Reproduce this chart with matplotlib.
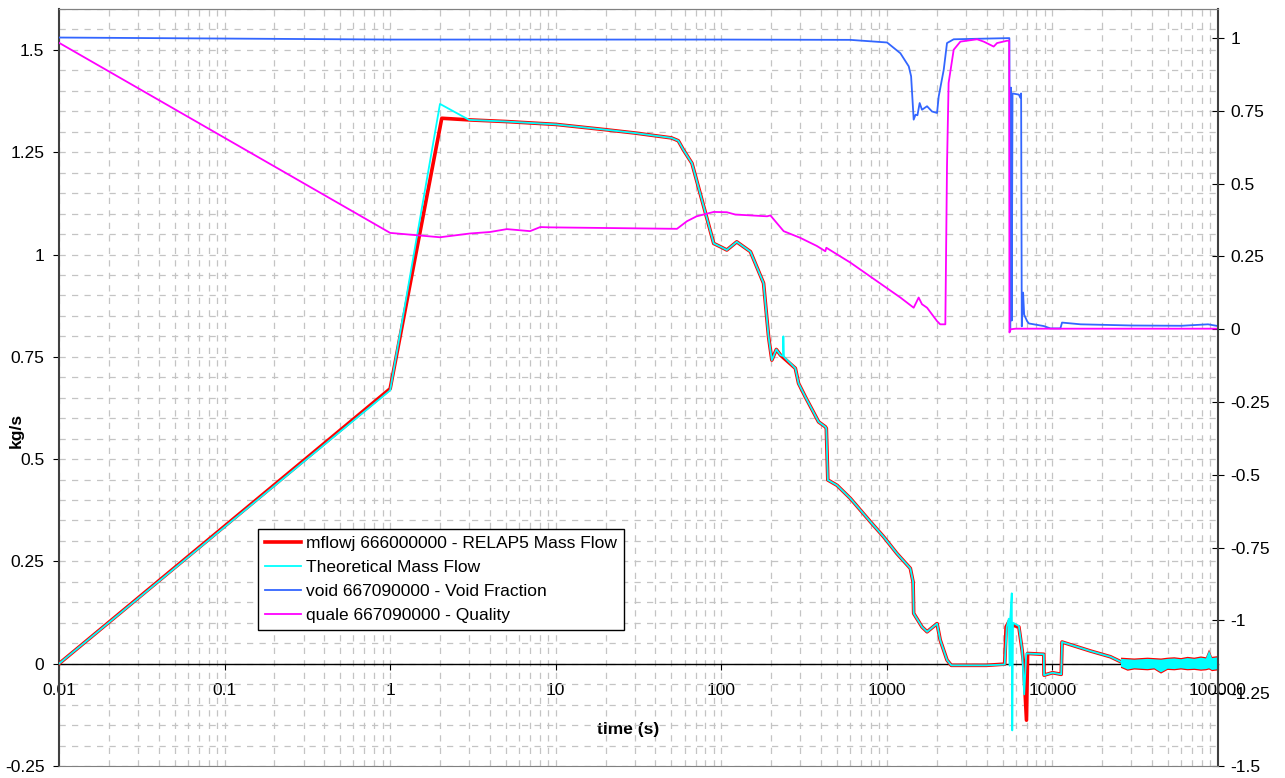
import numpy as np
import matplotlib
matplotlib.use("Agg")
import matplotlib.pyplot as plt
from matplotlib.ticker import FixedLocator, FuncFormatter, LogLocator, MultipleLocator, NullFormatter

plt.rcParams['font.family'] = ['Liberation Sans', 'DejaVu Sans']

# mflowj 666000000 - RELAP5 mass flow (kg/s)
relap_t = [0.01, 1, 2.05, 3, 5, 10, 20, 30, 50, 55, 59, 66.5, 78, 90, 100, 108, 124, 150,
           180, 193, 202, 215, 228, 280, 293, 322, 387, 425, 431, 440, 500, 602, 795, 957,
           1152, 1386, 1440, 1452, 1520, 1630, 1749, 2010, 2100, 2308, 2450, 4000, 5150,
           5250, 5500, 5650, 6270, 6560, 6700, 6970, 7080, 8870, 8900, 10000, 11300, 11430,
           16980, 22400, 26400]
relap_flow = [0.0, 0.672, 1.333, 1.329, 1.325, 1.318, 1.305, 1.297, 1.285, 1.278, 1.256, 1.223,
              1.12, 1.027, 1.018, 1.011, 1.031, 1.007, 0.930, 0.799, 0.742, 0.768, 0.754, 0.722,
              0.685, 0.652, 0.591, 0.579, 0.575, 0.449, 0.436, 0.404, 0.347, 0.310, 0.269, 0.233,
              0.200, 0.123, 0.110, 0.090, 0.078, 0.098, 0.058, 0.009, -0.004, -0.004, -0.001,
              0.090, 0.105, 0.095, 0.090, 0.033, 0.0, -0.138, 0.025, 0.023, -0.028, -0.022,
              -0.026, 0.053, 0.031, 0.017, 0.003]

# theoretical mass flow (kg/s)
theo_t = [0.01, 1, 2, 3, 5, 10, 20, 30, 50, 55, 59, 66.5, 78, 90, 100, 108, 124, 150,
          180, 193, 202, 215, 228, 236, 237, 239, 280, 293, 322, 387, 425, 431, 440, 500, 602,
          795, 957, 1152, 1386, 1440, 1452, 1520, 1630, 1749, 2010, 2100, 2308, 2450, 4000,
          5150, 5300, 5450, 5520, 5560, 5680, 5720, 5780, 6270, 6560, 6750, 6950, 8870, 8900,
          10000, 11300, 11430, 16980, 22400, 26400]
theo_flow = [0.0, 0.668, 1.368, 1.329, 1.325, 1.318, 1.305, 1.297, 1.285, 1.278, 1.256, 1.223,
             1.12, 1.027, 1.018, 1.011, 1.031, 1.007, 0.930, 0.799, 0.742, 0.768, 0.754, 0.752,
             0.800, 0.750, 0.722, 0.685, 0.652, 0.591, 0.579, 0.575, 0.449, 0.436, 0.404, 0.347,
             0.310, 0.269, 0.233, 0.200, 0.123, 0.110, 0.090, 0.078, 0.098, 0.058, 0.009, -0.004,
             -0.004, -0.002, 0.090, 0.110, -0.005, 0.110, 0.172, -0.163, 0.100, 0.092, 0.033,
             -0.075, 0.025, 0.023, -0.028, -0.022, -0.026, 0.053, 0.031, 0.017, 0.003]

# noisy tail of both flow series: lower / upper envelope
tail_t = [25760, 28270, 31000, 34000, 37300, 40950, 44950, 49300, 54100, 59400, 65100,
          71400, 78400, 84000, 87700, 91400, 100000]
tail_lo = [-0.006, -0.013, -0.010, -0.011, -0.012, -0.010, -0.020, -0.011, -0.012, -0.010,
           -0.012, -0.011, -0.013, -0.012, -0.010, -0.014, -0.012]
tail_hi = [0.013, 0.012, 0.011, 0.012, 0.013, 0.012, 0.011, 0.013, 0.014, 0.012, 0.015,
           0.013, 0.016, 0.014, 0.033, 0.015, 0.017]

# void 667090000 - void fraction (right axis)
void_t = [0.01, 1, 100, 601, 1003, 1207, 1356, 1401, 1452, 1490, 1530, 1578, 1630, 1749, 1874,
          2010, 2057, 2205, 2308, 2533, 5447, 5495, 5560, 5620, 5680, 5740, 6270, 6400, 6470,
          6530, 6650, 6750, 7030, 7200, 8870, 9720, 11170, 11430, 14800, 30000, 60000, 87000,
          100000]
void_frac = [1.002, 0.995, 0.995, 0.994, 0.985, 0.948, 0.903, 0.869, 0.720, 0.737, 0.735, 0.777,
             0.754, 0.766, 0.748, 0.743, 0.800, 0.891, 0.983, 0.996, 1.0, 1.0, 0.0, 0.83, 0.03,
             0.81, 0.806, 0.795, 0.81, 0.01, 0.126, 0.05, 0.028, 0.02, 0.011, 0.003, 0.003, 0.023,
             0.017, 0.013, 0.012, 0.017, 0.011]

# quale 667090000 - quality (right axis)
qual_t = [0.01, 1, 2, 3.04, 4, 5.07, 7, 8.06, 9.3, 54, 62, 71, 90, 108, 121.6, 189, 198, 238,
          300, 378, 425, 431, 602, 1207, 1452, 1556, 1630, 1749, 2010, 2100, 2255, 2308, 2360,
          2533, 2780, 3508, 3846, 4418, 4630, 5320, 5480, 5500, 5600, 6000, 100000]
quality = [0.984, 0.331, 0.316, 0.329, 0.334, 0.344, 0.337, 0.351, 0.350, 0.345, 0.371, 0.388,
           0.403, 0.402, 0.394, 0.388, 0.391, 0.337, 0.314, 0.286, 0.268, 0.280, 0.229, 0.109,
           0.074, 0.109, 0.086, 0.074, 0.028, 0.017, 0.017, 0.56, 0.846, 0.960, 0.988, 0.996,
           0.988, 0.971, 0.983, 0.991, 0.991, -0.011, 0.0, 0.002, 0.002]

x_ticks = [0.01, 0.1, 1, 10, 100, 1000, 10000, 100000]
left_ticks = [-0.25, 0, 0.25, 0.5, 0.75, 1, 1.25, 1.5]
right_ticks = [-1.5, -1.25, -1, -0.75, -0.5, -0.25, 0, 0.25, 0.5, 0.75, 1]

fmt = FuncFormatter(lambda v, pos: '{:g}'.format(v))
fs = 12.5

fig = plt.figure(figsize=(12.85, 7.78), dpi=100)
ax = fig.add_axes([59 / 1285, 12 / 778, 1159 / 1285, 757 / 778])
ax.set_xscale('log')

l1, = ax.plot(relap_t, relap_flow, color='#ff0000', lw=2.6, zorder=3,
              label='mflowj 666000000 - RELAP5 Mass Flow')
ax.fill_between(tail_t, np.array(tail_lo) - 0.003, np.array(tail_hi) + 0.003,
                color='#ff0000', lw=0, zorder=3)
l2, = ax.plot(theo_t, theo_flow, color='#00ffff', lw=1.3, zorder=4, label='Theoretical Mass Flow')
ax.fill_between(tail_t, tail_lo, tail_hi, color='#00ffff', lw=0, zorder=4)

ax.set_xlim(0.01, 100000)
ax.set_ylim(-0.25, 1.6)
ax.xaxis.set_major_locator(FixedLocator(x_ticks))
ax.xaxis.set_major_formatter(fmt)
ax.xaxis.set_minor_locator(LogLocator(base=10, subs=range(2, 10)))
ax.xaxis.set_minor_formatter(NullFormatter())
ax.yaxis.set_major_locator(FixedLocator(left_ticks))
ax.yaxis.set_major_formatter(fmt)
ax.yaxis.set_minor_locator(MultipleLocator(0.05))

ax.set_axisbelow(True)
ax.grid(True, which='both', color='#c4c4c4', ls=(0, (5, 5)), lw=0.9)

ax.spines['bottom'].set_position(('data', 0))
ax.spines['bottom'].set_color('black')
ax.spines['bottom'].set_linewidth(1)
ax.spines['top'].set_color('#808080')
ax.spines['left'].set_color('#404040')
ax.spines['left'].set_linewidth(1.5)
ax.spines['right'].set_visible(False)

ax.tick_params(axis='x', which='major', direction='out', length=4, pad=10, labelsize=fs)
ax.tick_params(axis='y', which='major', direction='out', length=4, pad=6.5, labelsize=fs)
ax.tick_params(which='minor', length=0)

ax.set_xlabel('time (s)', fontweight='bold', fontsize=fs)
ax.xaxis.set_label_coords(0.491, 0.0585)
ax.set_ylabel('kg/s', fontweight='bold', fontsize=fs)
ax.yaxis.set_label_coords(-0.030, 0.443)

ax2 = ax.twinx()
l3, = ax2.plot(void_t, void_frac, color='#3366ff', lw=1.3, label='void 667090000 - Void Fraction')
l4, = ax2.plot(qual_t, quality, color='#ff00ff', lw=1.3, label='quale 667090000 - Quality')
ax2.set_ylim(-1.5, 1.1)
ax2.yaxis.set_major_locator(FixedLocator(right_ticks))
ax2.yaxis.set_major_formatter(fmt)
ax2.tick_params(axis='y', direction='inout', length=8, pad=5, labelsize=fs)
ax2.spines['left'].set_visible(False)
ax2.spines['right'].set_color('#404040')
ax2.spines['right'].set_linewidth(1.5)
ax2.spines['top'].set_color('#808080')
ax2.spines['bottom'].set_color('#808080')

leg = ax2.legend(handles=[l1, l2, l3, l4], loc='upper left', bbox_to_anchor=(0.1717, 0.3131),
                 fontsize=fs, fancybox=False, framealpha=1, edgecolor='black',
                 handlelength=2.1, handletextpad=0.25, labelspacing=0.5,
                 borderpad=0.4, borderaxespad=0)
leg.get_frame().set_linewidth(1.0)

fig.savefig('out.png', dpi=100)
